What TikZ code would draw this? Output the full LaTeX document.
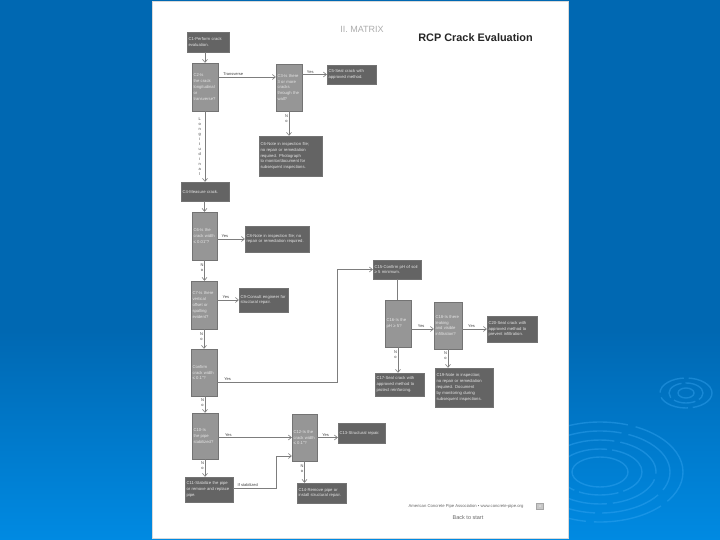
\documentclass[tikz,border=0pt]{standalone}
\usepackage{fontspec}
\setmainfont{Liberation Sans}
\usetikzlibrary{arrows.meta}
\definecolor{bgtop}{RGB}{0,104,178}
\definecolor{bgbot}{RGB}{0,138,226}
\definecolor{ripple}{RGB}{60,170,245}
\definecolor{lbox}{RGB}{150,150,150}
\definecolor{dbox}{RGB}{100,100,100}
\definecolor{lnk}{RGB}{125,125,125}
\newcommand\boxfont{\fontsize{4.2}{5.8}\selectfont\hyphenpenalty=10000\exhyphenpenalty=10000\hbadness=10000}
\begin{document}
\begin{tikzpicture}[x=1pt,y=-1pt,
  base/.style={draw=black!55, line width=0.4pt, inner sep=1.5pt, align=left, font=\boxfont, text=white!90!black},
  dec/.style={base, fill=lbox},
  act/.style={base, fill=dbox},
  sz/.code 2 args={\pgfmathsetmacro\mytw{#1-3}\edef\mytmpa{\noexpand\tikzset{minimum width=#1pt,minimum height=#2pt,text width=\mytw pt}}\mytmpa},
  arr/.style={draw=lnk, line width=0.6pt, -{Straight Barb[length=3pt,width=5pt]}},
  plain/.style={draw=lnk, line width=0.6pt},
  lab/.style={font=\fontsize{4}{4.6}\selectfont, text=black!75, inner sep=0.8pt},
  vlab/.style={lab, align=center, font=\fontsize{4}{5}\selectfont},
  ring/.style={draw=ripple, line width=1.4pt, opacity=0.4}]
\useasboundingbox (0,0) rectangle (720,540);
% background
\fill[bgtop] (0,0) rectangle (720,540);
\shade[top color=bgtop, bottom color=bgbot] (0,330) rectangle (720,540);
% ripples
\draw[ring, dash pattern=on 30pt off 5pt] (686,393) ellipse [x radius=26pt, y radius=15pt];
\draw[ring, dash pattern=on 22pt off 4pt] (686,393) ellipse [x radius=17pt, y radius=10pt];
\draw[ring] (686,393) ellipse [x radius=8pt, y radius=5pt];
\draw[ring, dash pattern=on 70pt off 8pt] (600,472) ellipse [x radius=83pt, y radius=50pt];
\draw[ring, dash pattern=on 60pt off 7pt] (600,472) ellipse [x radius=70pt, y radius=41pt];
\draw[ring, dash pattern=on 50pt off 6pt] (600,472) ellipse [x radius=56pt, y radius=32pt];
\draw[ring, dash pattern=on 40pt off 5pt] (600,472) ellipse [x radius=42pt, y radius=23pt];
\draw[ring] (600,472) ellipse [x radius=28pt, y radius=15pt];
% page
\fill[white, draw=black!15, line width=0.3pt] (152,1) rectangle (568,538);
% titles
\node[font=\fontsize{9}{10}\selectfont, text=black!32] (matrix) at (362,29) {II. MATRIX};
\node[font=\bfseries\fontsize{10.9}{12}\selectfont, text=black!85] (title) at (475.5,38) {RCP Crack Evaluation};
% boxes
\node[act, sz={42}{20}] (c1) at (208,42) {C1-Perform crack evaluation.};
\node[dec, sz={26}{48}] (c2) at (205,87) {C2-Is the crack longitudinal or transverse?};
\node[dec, sz={26}{47}] (c3) at (289,87.5) {C3-Is there 3 or more cracks through the wall?};
\node[act, sz={49}{19}] (c5) at (351.5,74.5) {C5-Seal crack with approved method.};
\node[act, sz={63}{40}] (c6) at (290.5,156) {C6-Note in inspection file; no repair or remediation required. Photograph to monitor/document for subsequent inspections.};
\node[act, sz={48}{19}] (c4) at (205,191.5) {C4-Measure crack.};
\node[dec, sz={25}{48}] (c7) at (204.5,236) {C6-Is the crack width ≤ 0.01"?};
\node[act, sz={64}{26}] (c8) at (277,239) {C8-Note in inspection file; no repair or remediation required.};
\node[dec, sz={26}{48}] (c9) at (204,305) {C7-Is there vertical offset or spalling evident?};
\node[act, sz={49}{24}] (c10) at (263.5,300) {C9-Consult engineer for structural repair.};
\node[dec, sz={26}{47}] (c11) at (204,372.5) {Confirm crack width ≤ 0.1"?};
\node[dec, sz={26}{46}] (c12) at (205,436) {C10-Is the pipe stabilized?};
\node[act, sz={48}{25}] (c13) at (209,489.5) {C11-Stabilize the pipe or remove and replace pipe.};
\node[dec, sz={25}{47}] (c14) at (304.5,437.5) {C12-Is the crack width ≤ 0.1"?};
\node[act, sz={47}{20}] (c15) at (361.5,433) {C13-Structural repair.};
\node[act, sz={49}{20}] (c16) at (321.5,493) {C14-Remove pipe or install structural repair.};
\node[act, sz={48}{19}] (c17) at (397,269.5) {C15-Confirm pH of soil ≥ 5 minimum.};
\node[dec, sz={26}{47}] (c18) at (398,323.5) {C16-Is the pH ≥ 5?};
\node[dec, sz={28}{47}] (c19) at (448,325.5) {C18-Is there leaking and visible infiltration?};
\node[act, sz={50}{26}] (c20) at (512,329) {C20-Seal crack with approved method to prevent infiltration.};
\node[act, sz={49}{23}] (c21) at (399.5,384.5) {C17-Seal crack with approved method to protect reinforcing.};
\node[act, sz={58}{39}] (c22) at (464,387.5) {C19-Note in inspection; no repair or remediation required. Document by monitoring during subsequent inspections.};
% bend points
\coordinate (bend) at (337,382);
\coordinate (sb1) at (276,488);
\coordinate (sb2) at (276,456);
% connectors
\draw[arr] (c1.south -| c2.north) -- (c2.north);
\draw[arr] ([yshift=10pt]c2.east) -- node[lab, anchor=south west, pos=0.07] {Transverse} ([yshift=10pt]c2.east -| c3.west);
\draw[arr] (c3.east |- c5.west) -- node[lab, anchor=south west, pos=0.15] {Yes} (c5.west);
\draw[arr] (c3.south) -- node[vlab, anchor=north east, pos=0.1] {N\\o} (c3.south |- c6.north);
\draw[arr] (c2.south) -- node[vlab, anchor=east, midway, xshift=-3pt] {L\\o\\n\\g\\i\\t\\u\\d\\i\\n\\a\\l} (c2.south |- c4.north);
\draw[arr] (c4.south -| c7.north) -- (c7.north);
\draw[arr] (c7.east |- c8.west) -- node[lab, anchor=south west, pos=0.12] {Yes} (c8.west);
\draw[arr] (c7.south) -- node[vlab, anchor=north east, pos=0.1] {N\\o} (c7.south |- c9.north);
\draw[arr] (c9.east |- c10.west) -- node[lab, anchor=south west, pos=0.2] {Yes} (c10.west);
\draw[arr] (c9.south) -- node[vlab, anchor=north east, pos=0.1] {N\\o} (c9.south |- c11.north);
\draw[arr] (c11.east |- bend) -- node[lab, anchor=south west, pos=0.05] {Yes} (bend) |- (c17.west);
\draw[arr] (c11.south -| c12.north) -- node[vlab, anchor=north east, pos=0.1] {N\\o} (c12.north);
\draw[arr] (c12.east |- c14.west) -- node[lab, anchor=south west, pos=0.08] {Yes} (c14.west);
\draw[arr] (c14.east) -- node[lab, anchor=south west, pos=0.2] {Yes} (c14.east -| c15.west);
\draw[arr] (c12.south) -- node[vlab, anchor=north east, pos=0.1] {N\\o} (c12.south |- c13.north);
\draw[arr] (c13.east |- sb1) -- node[lab, anchor=south west, pos=0.08] {If stabilized} (sb1) -- (sb2) -- (sb2 -| c14.west);
\draw[arr] (c14.south) -- node[vlab, anchor=north east, pos=0.1] {N\\o} (c14.south |- c16.north);
\draw[plain] (c17.south) -- (c17.south |- c18.north);
\draw[arr] (c18.east |- c20.west) -- node[lab, anchor=south west, pos=0.25] {Yes} (c19.west |- c20.west);
\draw[arr] (c19.east |- c20.west) -- node[lab, anchor=south west, pos=0.2] {Yes} (c20.west);
\draw[arr] (c18.south) -- node[vlab, anchor=north east, pos=0.1] {N\\o} (c18.south |- c21.north);
\draw[arr] (c19.south) -- node[vlab, anchor=north east, pos=0.1] {N\\o} (c19.south |- c22.north);
% footer
\node[font=\fontsize{4.2}{5}\selectfont, text=black!60] (foot) at (466,506) {American Concrete Pipe Association • www.concrete-pipe.org};
\node[draw=black!35, fill=black!22, minimum width=7pt, minimum height=6pt, inner sep=0pt, font=\fontsize{3}{3}\selectfont, text=white] (pg) at (540,506) {4};
\node[font=\fontsize{5.5}{6}\selectfont, text=black!60] (back) at (468,518) {Back to start};
\end{tikzpicture}
\end{document}
